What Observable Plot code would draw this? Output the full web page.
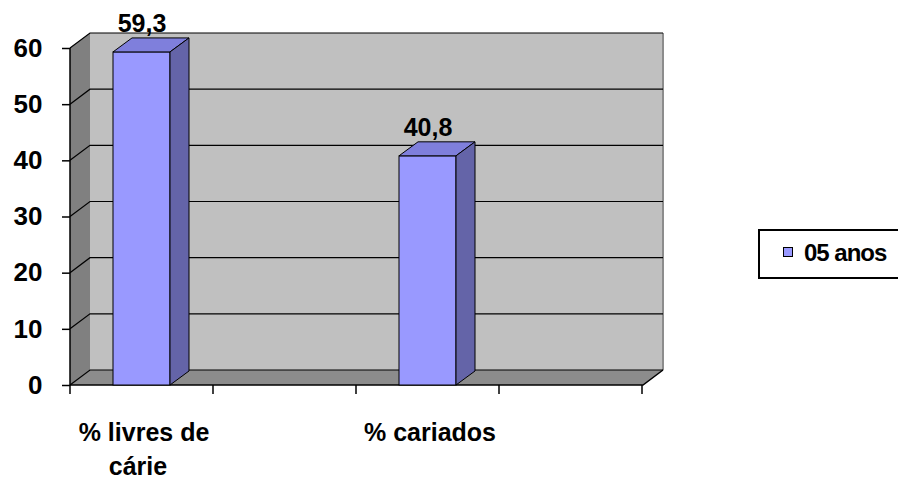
<!DOCTYPE html>
<html>
<head>
<meta charset="utf-8">
<script src="https://cdn.jsdelivr.net/npm/d3@7"></script>
<script src="https://cdn.jsdelivr.net/npm/@observablehq/plot@0.6"></script>
<style>
  html, body { margin: 0; padding: 0; background: #fff; }
  #wrap { position: relative; width: 898px; height: 478px; overflow: hidden; font-family: "Liberation Sans", Arial, sans-serif; }
  #wrap svg text { font-family: "Liberation Sans", Arial, sans-serif; font-weight: bold; }
  #legend { position: absolute; left: 758px; top: 229px; width: 150px; height: 46px; border: 2px solid #000; background: #fff; box-sizing: content-box; }
  #legend .sw { position: absolute; left: 23px; top: 16px; width: 8px; height: 8px; border: 1.5px solid #000; background: #9999ff; }
  #legend .lb { position: absolute; left: 44px; top: 9px; font: bold 24px "Liberation Sans", Arial, sans-serif; letter-spacing: -1px; color: #000; line-height: 26px; white-space: nowrap; }
</style>
</head>
<body>
<div id="wrap"></div>
<script>
// ---- data ----
const categories = ["% livres de\ncárie", "% cariados"];
const values = [59.3, 40.8];
const valueLabels = ["59,3", "40,8"];
const xSlots = ["% livres de\ncárie", "", "% cariados", " "];
const yTicks = [0, 10, 20, 30, 40, 50, 60];
const seriesName = "05 anos";

const data = categories.map((c, i) => ({cat: c, value: values[i], label: valueLabels[i]}));
const line1 = categories.map(c => ({cat: c, text: c.split("\n")[0]}));
const line2 = categories.filter(c => c.includes("\n")).map(c => ({cat: c, text: c.split("\n")[1]}));

// ---- 3D depth offsets (px) ----
const WDX = 20, WDY = -15;   // walls
const BDX = 19, BDY = -14;   // bars

function walls(index, scales, vals, dim) {
  const x = scales.x, y = scales.y;
  const L = dim.marginLeft, R = dim.width - dim.marginRight;
  const y0 = y(0), yT = y(d3.max(yTicks));
  const g = d3.create("svg:g");
  g.append("rect").attr("x", L + WDX).attr("y", yT + WDY).attr("width", R - L).attr("height", y0 - yT)
    .attr("fill", "#c0c0c0");
  g.append("path").attr("d", `M${R + WDX},${yT + WDY}V${y0 + WDY}`).attr("stroke", "#8c8c8c").attr("stroke-width", 2);
  g.append("path").attr("d", `M${L},${yT}L${L + WDX},${yT + WDY}L${L + WDX},${y0 + WDY}L${L},${y0}Z`).attr("fill", "#808080");
  g.append("path").attr("d", `M${L},${y0}L${L + WDX},${y0 + WDY}L${R + WDX},${y0 + WDY}L${R},${y0}Z`).attr("fill", "#8c8c8c");
  for (const t of yTicks) {
    const yy = y(t);
    g.append("path").attr("d", `M${L},${yy}L${L + WDX},${yy + WDY}L${R + WDX},${yy + WDY}`)
      .attr("fill", "none").attr("stroke", "#000").attr("stroke-width", 1.2);
  }
  g.append("path").attr("d", `M${L},${y0}L${R},${y0}L${R + WDX},${y0 + WDY}`).attr("fill", "none").attr("stroke", "#000").attr("stroke-width", 1.5);
  g.append("path").attr("d", `M${L},${yT}V${y0}`).attr("stroke", "#000").attr("stroke-width", 1.5);
  const step = x.step(), bw = x.bandwidth();
  const bounds = xSlots.map(s => x(s) + bw / 2 - step / 2);
  bounds.push(bounds[bounds.length - 1] + step);
  for (const b of bounds) {
    g.append("path").attr("d", `M${b},${y0}V${y0 + 9}`).attr("stroke", "#000").attr("stroke-width", 1.5);
  }
  return g.node();
}

function barFaces(index, scales, vals, dim) {
  const x = scales.x, y = scales.y;
  const bw = x.bandwidth(), y0 = y(0);
  const g = d3.create("svg:g").attr("stroke", "#000").attr("stroke-width", 1).attr("stroke-linejoin", "round");
  for (const d of data) {
    const x0 = x(d.cat), x1 = x0 + bw, yv = y(d.value);
    g.append("path").attr("fill", "#7f7fdc")
      .attr("d", `M${x0},${yv}L${x0 + BDX},${yv + BDY}L${x1 + BDX},${yv + BDY}L${x1},${yv}Z`);
    g.append("path").attr("fill", "#6464a8")
      .attr("d", `M${x1},${yv}L${x1 + BDX},${yv + BDY}L${x1 + BDX},${y0 + BDY}L${x1},${y0}Z`);
  }
  return g.node();
}

const chart = Plot.plot({
  width: 898, height: 478,
  marginLeft: 70, marginRight: 255, marginTop: 48, marginBottom: 93,
  x: {type: "band", domain: xSlots, paddingInner: 0.6, paddingOuter: 0.3, axis: null},
  y: {domain: [0, 60], axis: null},
  style: {fontFamily: "Liberation Sans, Arial, sans-serif", fontSize: "25px", fontWeight: "bold", color: "#000", background: "transparent", overflow: "visible"},
  marks: [
    walls,
    Plot.axisY({ticks: yTicks, tickSize: 8, tickPadding: 20, strokeWidth: 1.5, fontSize: 26, fontWeight: "bold", label: null}),
    Plot.text(line1, {x: "cat", y: () => 0, text: "text", dy: 55, dx: 2, lineAnchor: "bottom", fontSize: 25, fontWeight: "bold", fill: "#000"}),
    Plot.text(line2, {x: "cat", y: () => 0, text: "text", dy: 89, dx: -4, lineAnchor: "bottom", fontSize: 25, fontWeight: "bold", fill: "#000"}),
    Plot.barY(data, {x: "cat", y: "value", fill: "#9999ff", stroke: "#000", strokeWidth: 1}),
    barFaces,
    Plot.text(data, {x: "cat", y: "value", text: "label", dy: -20, lineAnchor: "bottom", fontSize: 25, fontWeight: "bold", fill: "#000"})
  ]
});
document.getElementById("wrap").appendChild(chart);

const legend = document.createElement("div");
legend.id = "legend";
legend.innerHTML = `<div class="sw"></div><div class="lb"></div>`;
legend.querySelector(".lb").textContent = seriesName;
document.getElementById("wrap").appendChild(legend);
</script>
</body>
</html>
